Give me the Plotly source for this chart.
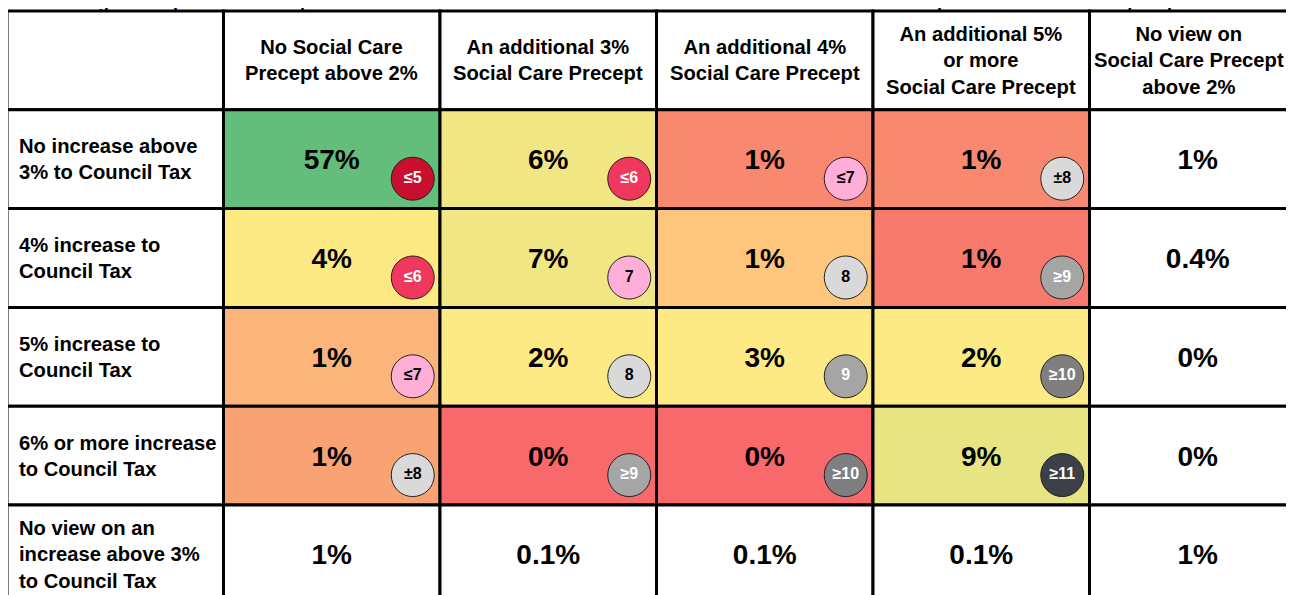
import plotly.graph_objects as go

# ---------------- data ----------------
title_text = ("Percentage of respondents who preferred each combination of Council Tax increase "
              "and Social Care Precept increase \u2013 all survey respondents")

col_labels = [
    "No Social Care<br>Precept above 2%",
    "An additional 3%<br>Social Care Precept",
    "An additional 4%<br>Social Care Precept",
    "An additional 5%<br>or more<br>Social Care Precept",
    "No view on<br>Social Care Precept<br>above 2%",
]
row_labels = [
    "No increase above<br>3% to Council Tax",
    "4% increase to<br>Council Tax",
    "5% increase to<br>Council Tax",
    "6% or more increase<br>to Council Tax",
    "No view on an<br>increase above 3%<br>to Council Tax",
]
values = [
    [57, 6, 1, 1, 1],
    [4, 7, 1, 1, 0.4],
    [1, 2, 3, 2, 0],
    [1, 0, 0, 9, 0],
    [1, 0.1, 0.1, 0.1, 1],
]
cell_colors = [
    ["#63BE7B", "#F1E684", "#F98870", "#F98870"],
    ["#FDE983", "#F0E684", "#FDC67C", "#F8796D"],
    ["#FBB47A", "#FEEA84", "#FEEA84", "#FEEA84"],
    ["#F9A374", "#F8696B", "#F8696B", "#E6E483"],
]
rank_labels = [
    ["\u22645", "\u22646", "\u22647", "\u00b18"],
    ["\u22646", "7", "8", "\u22659"],
    ["\u22647", "8", "9", "\u226510"],
    ["\u00b18", "\u22659", "\u226510", "\u226511"],
]
rank_fill = {
    "\u22645": "#C8102E", "\u22646": "#F0385E", "\u22647": "#FFAED8", "7": "#FFAED8",
    "8": "#D9D9D9", "\u00b18": "#D9D9D9", "9": "#A5A5A5", "\u22659": "#A5A5A5",
    "\u226510": "#7F7F7F", "\u226511": "#3C4048",
}
rank_text = {
    "\u22645": "white", "\u22646": "white", "\u22647": "black", "7": "black",
    "8": "black", "\u00b18": "black", "9": "white", "\u22659": "white",
    "\u226510": "white", "\u226511": "white",
}

# ---------------- figure ----------------
FONT = "Liberation Sans, Arial, Helvetica, sans-serif"
W, H = 1294, 595
n_cols = len(col_labels) + 1
n_rows = len(row_labels) + 1
col_px = 216.5
row_px = 98.8
left_px, top_px = -1, 3   # grid origin inside the figure (page body adds an 8px offset)

x_range = [-0.5 - left_px / col_px, -0.5 + (W - left_px) / col_px]
y_range = [-0.5 + (H - top_px) / row_px, -0.5 - top_px / row_px]

fig = go.Figure()

shapes = []
for r in range(n_rows):
    for c in range(n_cols):
        fill = "white"
        if 1 <= r <= 4 and 1 <= c <= 4:
            fill = cell_colors[r - 1][c - 1]
        shapes.append(dict(type="rect", xref="x", yref="y",
                           x0=c - 0.5, x1=c + 0.5, y0=r - 0.5, y1=r + 0.5,
                           fillcolor=fill, line=dict(color="black", width=3),
                           layer="below"))

annotations = []
for j, lab in enumerate(col_labels):
    annotations.append(dict(x=j + 1, y=0, xref="x", yref="y", text=lab,
                            showarrow=False, xanchor="center", yanchor="middle",
                            align="center", xshift=(-9 if j == len(col_labels) - 1 else 0),
                            font=dict(family=FONT, size=20.2, color="black", weight="bold")))
for i, lab in enumerate(row_labels):
    annotations.append(dict(x=-0.5 + 10 / col_px, y=i + 1, xref="x", yref="y", text=lab,
                            showarrow=False, xanchor="left", yanchor="middle",
                            align="left",
                            font=dict(family=FONT, size=20.2, color="black", weight="bold")))
annotations.append(dict(x=-0.5 + 13 / col_px, y=y_range[1] + 6 / row_px, xref="x", yref="y",
                        text=title_text, showarrow=False, xanchor="left", yanchor="bottom",
                        font=dict(family=FONT, size=18, color="black", weight="bold")))

# percentages
vx, vy, vt = [], [], []
for i, row in enumerate(values):
    for j, v in enumerate(row):
        vx.append(j + 1)
        vy.append(i + 1 + 3 / row_px)
        vt.append(f"{v:g}%")
fig.add_trace(go.Scatter(x=vx, y=vy, text=vt, mode="text", textposition="middle center",
                         textfont=dict(family=FONT, size=28, color="black", weight="bold"),
                         hoverinfo="skip", showlegend=False))

# rank badges
bx, by, bt, bf, bc = [], [], [], [], []
dx = 81 / col_px
dy = 19.5 / row_px
for i, row in enumerate(rank_labels):
    for j, lab in enumerate(row):
        bx.append(j + 1 + dx)
        by.append(i + 1 + dy)
        bt.append(lab)
        bf.append(rank_fill[lab])
        bc.append(rank_text[lab])
fig.add_trace(go.Scatter(x=bx, y=by, text=bt, mode="markers+text", textposition="middle center",
                         marker=dict(size=43, color=bf, line=dict(color="#222222", width=1)),
                         textfont=dict(family=FONT, size=16, color=bc, weight="bold"),
                         hoverinfo="skip", showlegend=False))

fig.update_layout(
    width=W, height=H,
    margin=dict(l=0, r=0, t=0, b=0, pad=0),
    paper_bgcolor="white", plot_bgcolor="white",
    xaxis=dict(range=x_range, visible=False, fixedrange=True),
    yaxis=dict(range=y_range, visible=False, fixedrange=True),
    shapes=shapes, annotations=annotations,
    showlegend=False,
)

fig.write_html("out.html")
